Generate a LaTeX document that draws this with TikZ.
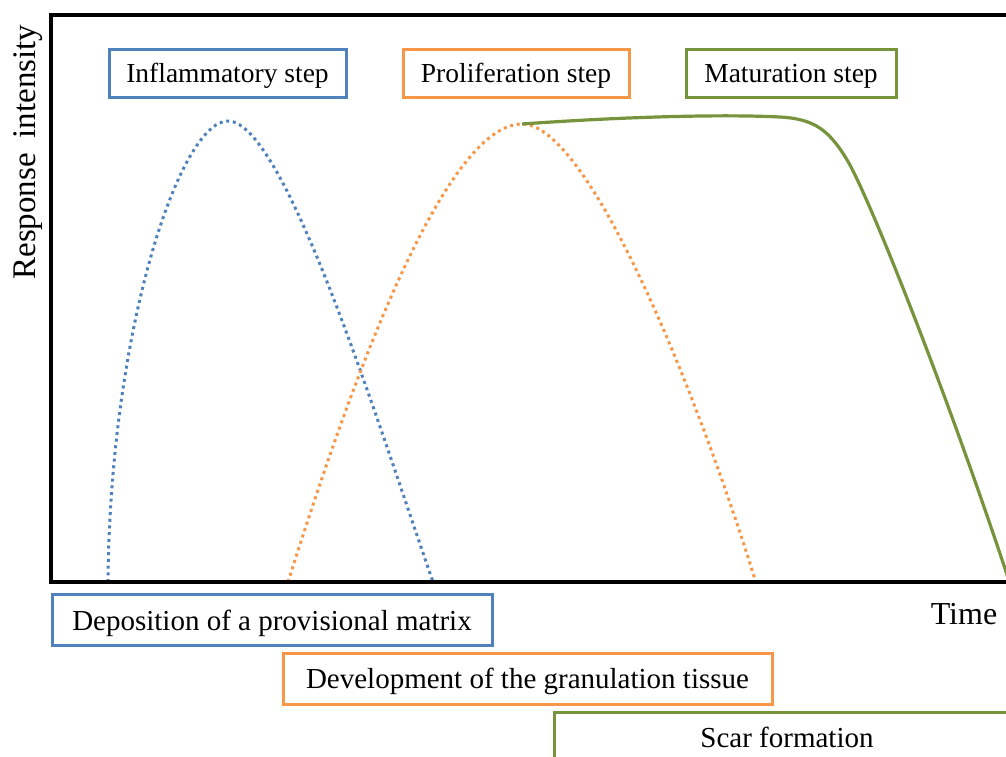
\documentclass[tikz,border=0pt]{standalone}
\usepackage{fontspec}
\setmainfont{Liberation Serif}
\definecolor{cblue}{HTML}{4F81BD}
\definecolor{corange}{HTML}{F79646}
\definecolor{cgreen}{HTML}{77933C}
\begin{document}
\begin{tikzpicture}[x=1pt,y=-1pt,
  stepbox/.style={draw, line width=3pt, inner sep=0pt, minimum height=48pt,
    text height=20.5pt, text depth=2.5pt,
    font=\fontsize{27.5}{30}\selectfont},
  phasebox/.style={draw, line width=3pt, inner sep=0pt, minimum height=51pt,
    text height=22pt, text depth=2pt,
    font=\fontsize{29}{32}\selectfont},
  dotcurve/.style={line width=3pt, dash pattern=on 3pt off 3.7pt},
  axisline/.style={line width=4pt, line join=miter},
  axislabel/.style={font=\fontsize{33}{36}\selectfont, inner sep=0pt}]
\useasboundingbox (0,0) rectangle (1006,756);
\clip (0,0) rectangle (1006,756);
% curves
\draw[dotcurve, cblue] (108,582) .. controls (110,330) and (180,121) .. (228,121)
  .. controls (285,121) and (380,430) .. (433,582);
\draw[dotcurve, corange] (288,582) .. controls (330,450) and (435,124) .. (522,124)
  .. controls (590,124) and (700,400) .. (757,586);
\draw[line width=3.2pt, cgreen] (522,124) .. controls (620,117) and (720,114) .. (780,117)
  .. controls (815,119) and (830,130) .. (850,165)
  .. controls (880,222) and (960,430) .. (1012,590);
% axes
\draw[axisline] (1012,14.5) -- (50.5,14.5) -- (50.5,582) -- (1012,582);
% labels
\node[axislabel, rotate=90] (yl) at (28,152) {Response\hspace{0.45em}intensity};
\node[font=\fontsize{32}{35}\selectfont, inner sep=0pt] (xl) at (964,614) {Time};
% step boxes
\node[stepbox, cblue, minimum width=237pt] (inf) at (227.5,73) {\color{black}Inflammatory step};
\node[stepbox, corange, minimum width=226pt] (pro) at (516,73) {\color{black}Proliferation step};
\node[stepbox, cgreen, minimum width=210pt] (mat) at (791,73) {\color{black}Maturation step};
% phase boxes
\node[phasebox, cblue, minimum width=440pt] (dep) at (272,620) {\color{black}Deposition of a provisional matrix};
\node[phasebox, corange, minimum width=489pt] (dev) at (527.5,678.5) {\color{black}Development of the granulation tissue};
\node[phasebox, cgreen, minimum width=466pt] (scar) at (787,737.5) {\color{black}Scar formation};
\end{tikzpicture}
\end{document}
